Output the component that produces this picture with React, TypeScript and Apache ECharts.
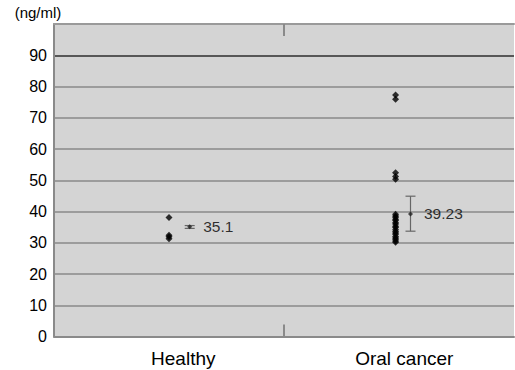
import React, { useEffect, useRef } from "react";
import * as echarts from "echarts";

const categories = ["Healthy", "Oral cancer"];
const yTicks = [0, 10, 20, 30, 40, 50, 60, 70, 80, 90];
const healthyValues = [38.1, 32.4, 31.9, 31.3];
const oralValues = [
  77.3, 75.9, 52.4, 51.2, 50.3, 39.1, 38.6, 38.2, 37.5, 37.1, 36.4, 36.0, 35.3,
  34.9, 34.2, 33.6, 33.1, 32.7, 32.0, 31.5, 31.1, 30.6, 30.2,
];
const means = [35.1, 39.23];
const meanLabels = ["35.1", "39.23"];
const errLow = [34.6, 33.7];
const errHigh = [35.5, 44.9];

const FONT = "'Liberation Sans', Arial, Helvetica, sans-serif";

export default function App() {
  const ref = useRef<HTMLDivElement>(null);
  useEffect(() => {
    document.body.style.margin = "0";
    const chart = echarts.init(ref.current!, null, { renderer: "svg" });
    const dotX = [0.5, 1.485];
    const meanX = [0.59, 1.55];
    const gridColors = [
      "#8a8a8a", "#8a8a8a", "#8a8a8a", "#8a8a8a", "#8a8a8a", "#8a8a8a",
      "#8a8a8a", "#8a8a8a", "#8a8a8a", "#2e2e2e", "#9a9a9a",
    ];
    chart.setOption({
      animation: false,
      backgroundColor: "#ffffff",
      grid: {
        left: 54,
        right: 1,
        top: 24,
        bottom: 33.5,
        show: true,
        backgroundColor: "#d4d4d4",
        borderWidth: 0,
      },
      xAxis: [
        {
          type: "value",
          min: 0,
          max: 2,
          interval: 1,
          position: "bottom",
          axisLine: { show: true, lineStyle: { color: "#8a8a8a", width: 2 } },
          axisTick: {
            show: true,
            inside: true,
            length: 12,
            customValues: [1],
            lineStyle: { color: "#8a8a8a", width: 2 },
          },
          splitLine: { show: false },
          axisLabel: {
            show: true,
            customValues: [0.562, 1.523],
            formatter: (v: number) => (v < 1 ? categories[0] : categories[1]),
            fontFamily: FONT,
            fontSize: 19,
            color: "#000",
            margin: 12,
          },
        },
        {
          type: "value",
          min: 0,
          max: 2,
          interval: 1,
          position: "top",
          axisLine: { show: true, lineStyle: { color: "#9a9a9a", width: 2 } },
          axisTick: {
            show: true,
            inside: true,
            length: 12,
            customValues: [1],
            lineStyle: { color: "#8a8a8a", width: 2 },
          },
          splitLine: { show: false },
          axisLabel: { show: false },
        },
      ],
      yAxis: {
        type: "value",
        min: 0,
        max: 100,
        interval: 10,
        name: "(ng/ml)",
        nameLocation: "end",
        nameGap: 4,
        nameTextStyle: {
          fontFamily: FONT,
          fontSize: 15,
          color: "#000",
          padding: [0, 32, 0, 0],
        },
        axisLine: { show: true, lineStyle: { color: "#8a8a8a", width: 2 } },
        axisTick: { show: false },
        splitLine: { show: true, lineStyle: { color: gridColors, width: 1.5 } },
        axisLabel: {
          customValues: yTicks,
          fontFamily: FONT,
          fontSize: 16,
          color: "#000",
          margin: 7,
        },
      },
      series: [
        {
          type: "scatter",
          symbol: "diamond",
          symbolSize: 7,
          itemStyle: { color: "#000" },
          data: healthyValues.map((v) => [dotX[0], v]),
        },
        {
          type: "scatter",
          symbol: "diamond",
          symbolSize: 7,
          itemStyle: { color: "#000" },
          data: oralValues.map((v) => [dotX[1], v]),
        },
        {
          type: "custom",
          renderItem: (params: any, api: any) => {
            const x = api.value(0);
            const lo = api.coord([x, api.value(1)]);
            const hi = api.coord([x, api.value(2)]);
            const half = 5;
            const style = { stroke: "#666", lineWidth: 1.2 };
            return {
              type: "group",
              children: [
                { type: "line", shape: { x1: lo[0], y1: lo[1], x2: hi[0], y2: hi[1] }, style },
                { type: "line", shape: { x1: lo[0] - half, y1: lo[1], x2: lo[0] + half, y2: lo[1] }, style },
                { type: "line", shape: { x1: hi[0] - half, y1: hi[1], x2: hi[0] + half, y2: hi[1] }, style },
              ],
            };
          },
          data: means.map((_, i) => [meanX[i], errLow[i], errHigh[i]]),
          z: 3,
        },
        {
          type: "scatter",
          symbol: "diamond",
          symbolSize: 5,
          itemStyle: { color: "#222" },
          z: 4,
          label: {
            show: true,
            position: "right",
            distance: 11,
            fontFamily: FONT,
            fontSize: 15.5,
            color: "#000",
            formatter: (p: any) => meanLabels[p.dataIndex],
          },
          data: means.map((m, i) => [meanX[i], m]),
        },
      ],
    });
    return () => chart.dispose();
  }, []);
  return (
    <div
      ref={ref}
      style={{ position: "absolute", left: 0, top: 0, width: 515, height: 370 }}
    />
  );
}
